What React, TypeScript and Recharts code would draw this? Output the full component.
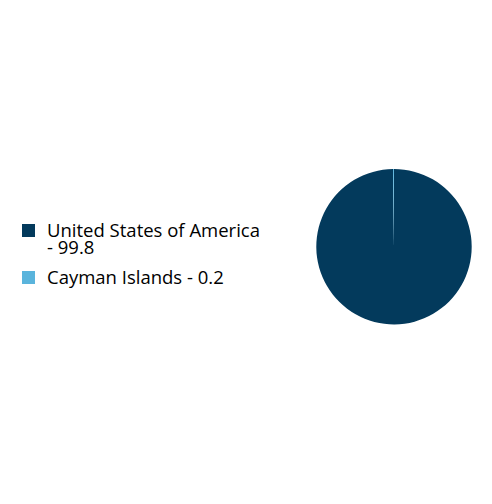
import React from 'react';
import { PieChart, Pie, Cell, Legend } from 'recharts';

const countries = ['United States of America', 'Cayman Islands'];
const shares = [99.8, 0.2];
const COLORS = ['#033a5c', '#5ab4dc'];

const data = countries.map((name, i) => ({ name, value: shares[i] }));

const renderLegend = () => (
  <div style={{ fontFamily: '"Open Sans", sans-serif', fontSize: 18.5, lineHeight: '16.7px', color: '#000' }}>
    {data.map((entry, index) => (
      <div
        key={`legend-${index}`}
        style={{ display: 'flex', alignItems: 'flex-start', marginBottom: 13.6 }}
      >
        <span
          style={{
            width: 13,
            height: 13,
            marginTop: 1.7,
            marginRight: 12,
            flex: 'none',
            background: COLORS[index % COLORS.length],
          }}
        />
        <span style={{ width: 216 }}>{`${entry.name} - ${entry.value}`}</span>
      </div>
    ))}
  </div>
);

const App = () => {
  return (
    <div style={{ position: 'absolute', left: 0, top: 0, width: 492, height: 504 }}>
      <PieChart width={492} height={504} margin={{ top: 0, right: 0, bottom: 0, left: 0 }}>
        <Legend
          content={renderLegend}
          wrapperStyle={{ position: 'absolute', left: 22, top: 222.4, width: 260 }}
        />
        <Pie
          data={data}
          dataKey="value"
          nameKey="name"
          cx={394}
          cy={246.7}
          outerRadius={77.7}
          startAngle={90}
          endAngle={-270}
          stroke="none"
          isAnimationActive={false}
        >
          {data.map((entry, index) => (
            <Cell key={`cell-${index}`} fill={COLORS[index % COLORS.length]} />
          ))}
        </Pie>
      </PieChart>
    </div>
  );
};

export default App;
